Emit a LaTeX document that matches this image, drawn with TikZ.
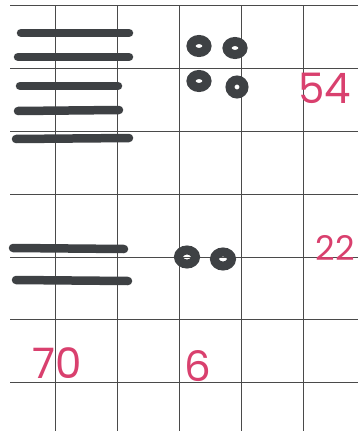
\documentclass[tikz,border=0pt]{standalone}
\usepackage{fontspec}
\setmainfont{Poppins}
\usepackage{xcolor}
\usepackage{tikz}
\usetikzlibrary{positioning}
\definecolor{GridGrey}{HTML}{4A4A4A}
\definecolor{MarkerDark}{HTML}{3E4144}
\definecolor{PenPink}{HTML}{D9406E}
\tikzset{
  gridline/.style={draw=GridGrey,line width=0.8pt},
  tenbar/.style={draw=MarkerDark,line width=8.5pt,line cap=round},
  onedot/.style={draw=MarkerDark,line width=9pt},
  handnum/.style={text=PenPink,inner sep=0pt,font=\fontsize{42}{42}\selectfont}
}

\begin{document}
\begin{tikzpicture}[x=1pt,y=-1pt]
\useasboundingbox (0,0) rectangle (358,431);
\fill[white] (0,0) rectangle (358,431);
% grid
\foreach \gy in {5,68,131,194,257,319,382}
  \draw[gridline] (10,\gy)--(358,\gy);
\foreach \gx in {55,117,179,241,303}
  \draw[gridline] (\gx,5)--(\gx,431);
% tens: 54
\draw[tenbar] (21,33)--(129,33);
\draw[tenbar] (18,57)--(129,57);
\draw[tenbar] (20,86)--(118,86);
\draw[tenbar] (18,111)--(119,110);
\draw[tenbar] (16,139)--(129,138);
% ones: 54
\draw[onedot] (199,46) ellipse (8 and 6.5);
\draw[onedot] (235,48) ellipse (8 and 6.5);
\draw[onedot] (199,81) ellipse (8 and 6.5);
\draw[onedot] (237,87) ellipse (7 and 7);
% tens: 22
\draw[tenbar] (13,248)--(124,249);
\draw[tenbar] (16,280)--(128,281);
% ones: 22
\draw[onedot] (187,257) ellipse (8.5 and 7);
\draw[onedot] (223,259) ellipse (8.5 and 7);
% written totals
\node[handnum] (total54) at (325,88) {54};
\node[handnum,font=\fontsize{34}{34}\selectfont] (total22) at (335,248) {22};
\node[handnum] (sumtens) at (57,363) {70};
\node[handnum] (sumones) at (198,366) {6};
\end{tikzpicture}
\end{document}
